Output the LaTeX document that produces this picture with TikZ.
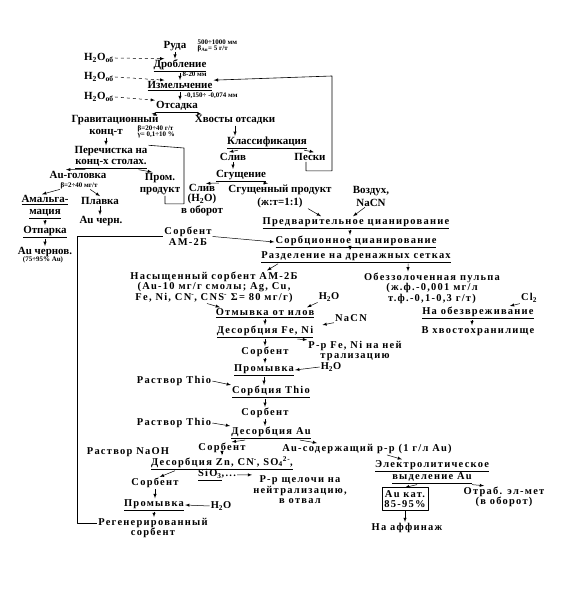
\documentclass[tikz,border=0pt]{standalone}
\usepackage{fontspec}
\setmainfont{Liberation Serif}
\newfontfamily\spacedfont{Liberation Serif}[LetterSpace=12]
\tikzset{
  lbl/.style={inner sep=1bp,align=center,font=\bfseries\fontsize{11}{11}\selectfont},
  slbl/.style={inner sep=1bp,align=center,font=\spacedfont\bfseries\fontsize{10.5}{10.5}\selectfont},
  note/.style={inner sep=0.5bp,align=left,font=\bfseries\fontsize{7}{6.5}\selectfont},
  flow/.style={black,->,line width=0.5bp},
  feed/.style={flow,dashed},
  back/.style={black,line width=0.6bp},
  catbox/.style={slbl,draw,line width=0.6bp,inner sep=2.5bp},
}
\begin{document}
\begin{tikzpicture}[>=latex,line join=bevel,]
\useasboundingbox (0bp,0bp) rectangle (564bp,595bp);
%% crushing, grinding, jigging
\node (ruda) at (175bp,549bp) [lbl] {Руда};
  \node (rudaNote) at (197bp,549bp) [note,anchor=west] {500÷1000 мм\\β\textsubscript{Au}= 5 г/т};
  \node (h2oA) at (99bp,537bp) [lbl] {H\textsubscript{2}O\textsubscript{об}};
  \node (drob) at (180bp,529bp) [lbl] {\underline{Дробление}};
  \node (drobNote) at (182bp,521bp) [note,anchor=west] {8-20 мм};
  \node (h2oB) at (99bp,518bp) [lbl] {H\textsubscript{2}O\textsubscript{об}};
  \node (izm) at (180bp,509bp) [lbl] {\underline{Измельчение}};
  \node (izmNote) at (184bp,499bp) [note,anchor=west] {-0,150÷ -0,074 мм};
  \node (h2oC) at (99bp,498bp) [lbl] {H\textsubscript{2}O\textsubscript{об}};
  \node (ots) at (177bp,488bp) [lbl] {\underline{Отсадка}};
  \node (grav) at (115bp,475bp) [lbl] {Гравитационный};
  \node (kont) at (106bp,462bp) [lbl] {конц-т};
  \node (gravNote) at (137bp,463bp) [note,anchor=west] {β=20÷40 г/т\\γ= 0,1÷10 \%};
  \node (hvost) at (235bp,475bp) [lbl] {Хвосты отсадки};
  \node (pere) at (111bp,437.5bp) [lbl] {Перечистка на\\\underline{конц-х столах.}};
  \node (klass) at (267bp,452bp) [lbl] {\underline{Классификация}};
  \node (sliv1) at (233bp,438bp) [lbl] {Слив};
  \node (peski) at (310bp,438bp) [lbl] {Пески};
  \node (sgusch) at (241bp,419bp) [lbl] {\underline{Сгущение}};
  \node (augol) at (78bp,420.5bp) [lbl] {Au-головка};
  \node (augolNote) at (79bp,409.5bp) [note] {β=2÷40 мг/т};
  \node (prom) at (160bp,411bp) [lbl] {Пром.\\[1bp]продукт};
  \node (sliv2) at (202bp,395bp) [lbl,font=\bfseries\fontsize{11}{10}\selectfont] {Слив\\(H\textsubscript{2}O)\\в оборот};
  \node (sgprod) at (280bp,399bp) [lbl] {Сгущенный продукт\\[2bp](ж:т=1:1)};
  \node (vozd) at (371bp,399bp) [lbl] {Воздух,\\[2bp]NaCN};
  \node (amalg) at (45bp,388bp) [lbl] {\underline{Амальга-}\\[1bp]\underline{мация}};
  \node (plav) at (100bp,394bp) [lbl] {Плавка};
  \node (aucher) at (101bp,374bp) [lbl] {Au черн.};
  \node (otpar) at (45bp,363bp) [lbl] {\underline{Отпарка}};
  \node (auchernov) at (45bp,343bp) [lbl] {Au чернов.};
  \node (auchernovNote) at (43bp,335bp) [note] {(75÷95\% Au)};
%% cyanidation
  \node (sorb0) at (188bp,358.5bp) [slbl] {Сорбент\\[1bp]АМ-2Б};
  \node (predv) at (356bp,372bp) [slbl] {\underline{Предварительное цианирование}};
  \node (sorbc) at (356bp,353bp) [slbl] {\underline{Сорбционное цианирование}};
  \node (razd) at (356bp,338bp) [slbl] {\underline{Разделение на дренажных сетках}};
  \node (nas) at (214bp,308bp) [slbl] {Насыщенный сорбент АМ-2Б\\(Au-10 мг/г смолы; Ag, Cu,\\Fe, Ni, CN\textsuperscript{-}, CNS\textsuperscript{-} Σ= 80 мг/г)};
  \node (obezz) at (432bp,307bp) [slbl] {Обеззолоченная пульпа\\(ж.ф.-0,001 мг/л\\т.ф.-0,1-0,3 г/т)};
  \node (cl2) at (529bp,297bp) [slbl] {Cl\textsubscript{2}};
  \node (h2oD) at (329bp,298bp) [slbl] {H\textsubscript{2}O};
  \node (otmyv) at (265bp,282bp) [slbl] {\underline{Отмывка от илов}};
  \node (naobez) at (478bp,282bp) [slbl] {\underline{На обезвреживание}};
  \node (desfe) at (265bp,263bp) [slbl] {\underline{Десорбция Fe, Ni}};
  \node (nacn) at (351bp,277bp) [slbl] {NaCN};
  \node (hvostohr) at (478bp,264bp) [slbl] {В хвостохранилище};
  \node (rrfe) at (355bp,244bp) [slbl] {Р-р Fe, Ni на ней\\трализацию};
  \node (sorbA) at (265bp,243bp) [slbl] {Сорбент};
  \node (promA) at (264bp,225bp) [slbl] {\underline{Промывка}};
  \node (h2oE) at (331bp,228bp) [slbl] {H\textsubscript{2}O};
  \node (thioA) at (174bp,214bp) [slbl] {Раствор Thio};
  \node (sorbthio) at (271bp,203bp) [slbl] {\underline{Сорбция Thio}};
  \node (sorbB) at (265bp,182bp) [slbl] {Сорбент};
  \node (thioB) at (174bp,172bp) [slbl] {Раствор Thio};
  \node (desau) at (271bp,162bp) [slbl] {\underline{Десорбция Au}};
  \node (sorbC) at (222bp,147bp) [slbl] {Сорбент};
  \node (ausod) at (367bp,146bp) [slbl] {Au-содержащий р-р (1 г/л Au)};
  \node (naoh) at (128bp,143bp) [slbl] {Раствор NaOH};
  \node (deszn) at (222bp,132bp) [slbl] {\underline{Десорбция Zn, CN\textsuperscript{-}, SO\textsubscript{4}\textsuperscript{2-},}};
  \node (sio) at (217bp,120bp) [slbl] {\underline{SiO\textsubscript{3}},...};
  \node (electro) at (432bp,123bp) [slbl] {\underline{Электролитическое}\\\underline{выделение Au}};
  \node (rrsch) at (300bp,105bp) [slbl] {Р-р щелочи на\\нейтрализацию,\\в отвал};
  \node (sorbD) at (155bp,112bp) [slbl] {Сорбент};
  \node (aukat) at (405bp,96bp) [catbox] {Au кат.\\85-95\%};
  \node (otrab) at (504bp,98bp) [slbl] {Отраб. эл-мет\\(в оборот)};
  \node (promB) at (154bp,90bp) [slbl] {\underline{Промывка}};
  \node (h2oF) at (221bp,89bp) [slbl] {H\textsubscript{2}O};
  \node (naaff) at (407bp,67bp) [slbl] {На аффинаж};
  \node (regen) at (153bp,72bp) [slbl] {Регенерированный};
  \node (regenB) at (153bp,62bp) [slbl] {сорбент};
  \coordinate (peskiTurn) at (332bp,519bp);
  \coordinate (promTurn) at (184bp,447bp);
%% connectors
  \draw [flow] (ruda.south) -- (ruda.south |- drob.north);
  \draw [feed] (h2oA.east) -- ([xshift=12bp]drob.north west);
  \draw [flow] (drob.south) -- (drob.south |- izm.north);
  \draw [feed] (h2oB.east) -- ([xshift=18bp]izm.north west);
  \draw [flow] (izm.south) -- (izm.south |- ots.north);
  \draw [feed] (h2oC.east) -- (ots.north west);
  \draw [flow] (ots.south west) -- ([xshift=-8bp]grav.north east);
  \draw [flow] (ots.south east) -- ([xshift=8bp]hvost.north west);
  \draw [flow] (kont.south) -- (kont.south |- pere.north);
  \draw [flow] (hvost.south) -- (hvost.south |- klass.north);
  \draw [flow] ([xshift=12bp]klass.south west) -- ([xshift=-4bp]sliv1.north);
  \draw [flow] ([xshift=-4bp]klass.south east) -- ([xshift=4bp]peski.north);
  \draw [flow] (sliv1.south) -- (sliv1.south |- sgusch.north);
  \draw [flow] ([xshift=4bp]sgusch.south west) -- ([xshift=4bp]sliv2.north);
  \draw [flow] ([xshift=-4bp]sgusch.south east) -- ([xshift=-12bp]sgprod.north);
  \draw [flow] ([xshift=28bp]sgprod.south) -- ([xshift=-35bp]predv.north);
  \draw [flow] ([xshift=-6bp]vozd.south) -- ([xshift=-3bp]predv.north);
  \draw [flow] ([xshift=12bp]pere.south west) -- ([xshift=-12bp]augol.north);
  \draw [flow] ([xshift=-10bp]pere.south east) -- ([xshift=-8bp]prom.north);
  \draw [flow] (augolNote.south west) -- ([xshift=-3bp]amalg.north);
  \draw [flow] ([xshift=-8bp]augolNote.south east) -- (plav.north);
  \draw [flow] (plav.south) -- (plav.south |- aucher.north);
  \draw [flow] (amalg.south) -- (amalg.south |- otpar.north);
  \draw [flow] (otpar.south) -- (otpar.south |- auchernov.north);
  \draw [back,->] ([xshift=-4bp]peski.south) -- ++(0,-9bp) -| (peskiTurn) -- (izm.north east);
  \draw [back] ([xshift=5bp]prom.south) -- ++(0,-8bp) -| (promTurn) -- (pere.north east);
  \draw [flow] ([xshift=-6bp]predv.south) -- ([xshift=-6bp]sorbc.north);
  \draw [flow] (sorb0.east) -- (sorbc.west);
  \draw [flow] ([xshift=-6bp]sorbc.south) -- ([xshift=-6bp]razd.north);
  \draw [flow] ([xshift=18bp]razd.south west) -- ([xshift=53bp]nas.north);
  \draw [flow] ([xshift=52bp]razd.south) -- ([xshift=-24bp]obezz.north);
  \draw [flow] ([xshift=-7bp]nas.south) -- ([xshift=-45bp]otmyv.north);
  \draw [flow] (h2oD.south west) -- ([xshift=42bp]otmyv.north);
  \draw [flow] (otmyv.south) -- (desfe.north);
  \draw [flow] (nacn.south west) -- ([xshift=8bp]desfe.north east);
  \draw [flow] ([xshift=-17bp]desfe.south east) -- (rrfe.north west);
  \draw [flow] (desfe.south) -- (sorbA.north);
  \draw [flow] (sorbA.south) -- (sorbA.south |- promA.north);
  \draw [flow] (h2oE.west) -- (promA.east);
  \draw [flow] (promA.south) -- (promA.south |- sorbthio.north);
  \draw [flow] (thioA.east) -- (sorbthio.north west);
  \draw [flow] (sorbB.north |- sorbthio.south) -- (sorbB.north);
  \draw [flow] (sorbB.south) -- (sorbB.south |- desau.north);
  \draw [flow] (thioB.east) -- (desau.north west);
  \draw [flow] ([xshift=15bp]desau.south west) -- ([xshift=-15bp]sorbC.north east);
  \draw [flow] ([xshift=-12bp]desau.south east) -- ([xshift=36bp]ausod.north west);
  \draw [flow] (sorbC.south) -- (sorbC.south |- deszn.north);
  \draw [flow] ([xshift=25bp]deszn.south west) -- ([xshift=-20bp]sorbD.north east);
  \draw [flow] (sio.east) -- (rrsch.north west);
  \draw [flow] ([xshift=20bp]ausod.south) -- ([xshift=-30bp]electro.north);
  \draw [flow] ([xshift=-15bp]electro.south) -- (aukat.north);
  \draw [flow] ([xshift=40bp]electro.south) -- ([xshift=-20bp]otrab.north);
  \draw [flow] (aukat.south) -- (aukat.south |- naaff.north);
  \draw [flow] (cl2.south west) -- ([xshift=-25bp]naobez.north east);
  \draw [flow] ([xshift=-6bp]naobez.south) -- ([xshift=-6bp]hvostohr.north);
  \draw [flow] (sorbD.south) -- (sorbD.south |- promB.north);
  \draw [flow] (h2oF.west) -- (promB.east);
  \draw [flow] (promB.south) -- (promB.south |- regen.north);
  \draw [back] (regen.west) -- ++(-20bp,0) |- (sorb0.west);
%
\end{tikzpicture}
\end{document}
